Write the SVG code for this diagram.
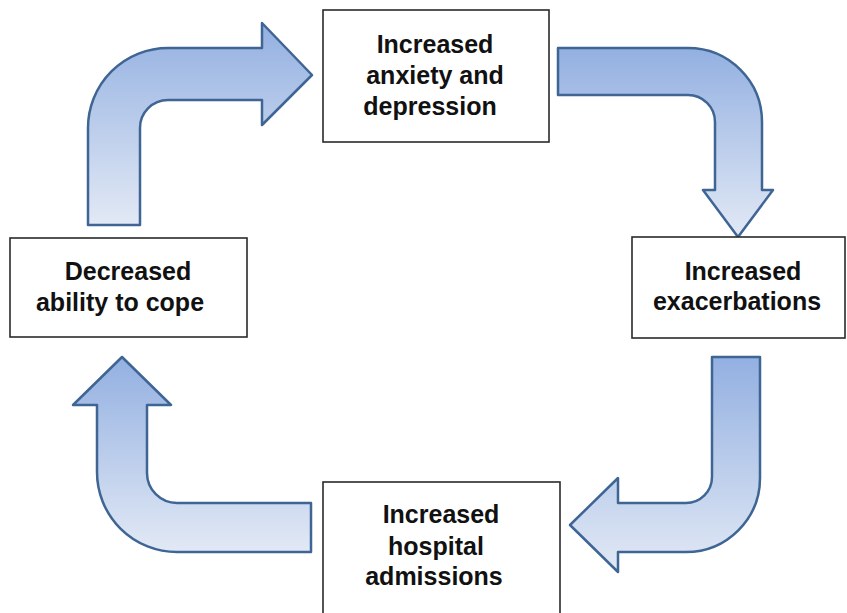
<svg xmlns="http://www.w3.org/2000/svg" width="847" height="613" viewBox="0 0 847 613">
  <defs>
    <linearGradient id="g" x1="0" y1="0" x2="0" y2="1">
      <stop offset="0" stop-color="#93b0e1"/>
      <stop offset="1" stop-color="#e2e9f5"/>
    </linearGradient>
    <style>
      .arr { fill: url(#g); stroke: #3e6594; stroke-width: 2.5; stroke-linejoin: round; }
      .box { fill: #ffffff; stroke: #2a2a2a; stroke-width: 1.6; }
      .t { font-family: "Liberation Sans", Arial, sans-serif; font-weight: bold; font-size: 25px; fill: #111111; text-anchor: middle; }
    </style>
  </defs>
  <rect width="847" height="613" fill="#ffffff"/>
  <g id="connectors">
    <path class="arr" d="M 88 225 L 88 128 A 80 80 0 0 1 168 48 L 262 48 L 262 23 L 312 75 L 262 125 L 262 100 L 168 100 A 28 28 0 0 0 140 128 L 140 225 Z"/>
    <path class="arr" d="M 558 48 L 688 48 A 74 74 0 0 1 762 122 L 762 190 L 773 190 L 738 237 L 703 190 L 715 190 L 715 122 A 27 27 0 0 0 688 95 L 558 95 Z"/>
    <path class="arr" d="M 712 357 L 760 357 L 760 478 A 74 74 0 0 1 686 552 L 618 552 L 618 572 L 570 525 L 618 478 L 618 503 L 686 503 A 26 26 0 0 0 712 477 Z"/>
    <path class="arr" d="M 311 503 L 311 552 L 177 552 A 80 80 0 0 1 97 472 L 97 405 L 73 405 L 122 357 L 171 405 L 147 405 L 147 473 A 30 30 0 0 0 177 503 Z"/>
  </g>
  <g id="node-anxiety">
    <rect class="box" x="323" y="10" width="226" height="132"/>
    <text class="t" x="435" y="53">Increased</text>
    <text class="t" x="435" y="84">anxiety and</text>
    <text class="t" x="430" y="115">depression</text>
  </g>
  <g id="node-exacerbations">
    <rect class="box" x="632" y="237" width="213" height="101"/>
    <text class="t" x="743" y="280">Increased</text>
    <text class="t" x="737" y="310">exacerbations</text>
  </g>
  <g id="node-hospital">
    <rect class="box" x="323" y="482" width="237" height="140"/>
    <text class="t" x="441" y="523">Increased</text>
    <text class="t" x="436" y="555">hospital</text>
    <text class="t" x="434" y="585">admissions</text>
  </g>
  <g id="node-cope">
    <rect class="box" x="10" y="238" width="237" height="99"/>
    <text class="t" x="128" y="280">Decreased</text>
    <text class="t" x="120" y="311">ability to cope</text>
  </g>
</svg>
